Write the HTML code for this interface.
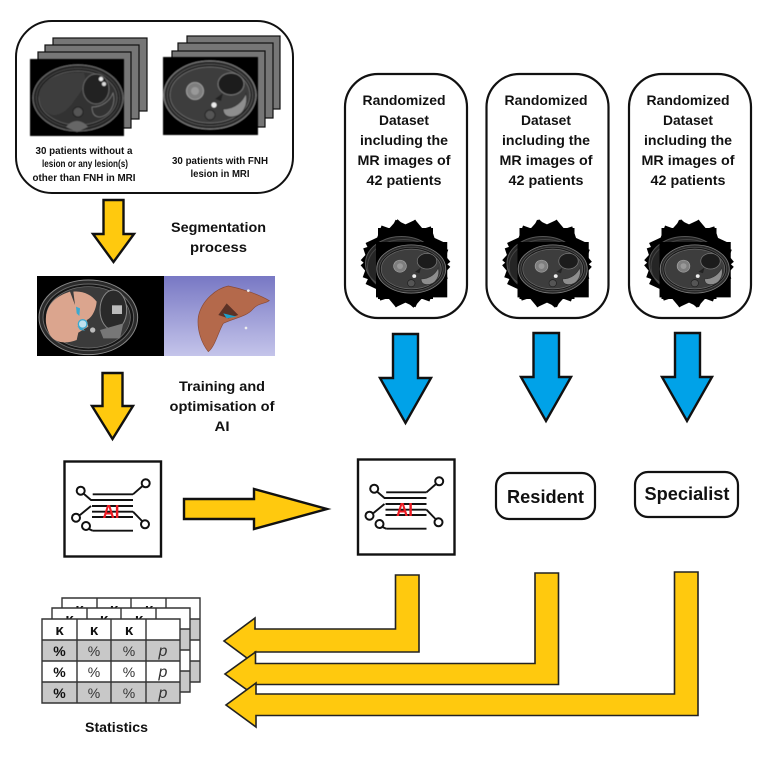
<!DOCTYPE html>
<html><head><meta charset="utf-8"><style>
html,body{margin:0;padding:0;background:#fff}
svg{display:block}
text{font-family:"Liberation Sans",sans-serif;font-weight:bold;fill:#111;text-anchor:middle}
text.n{font-weight:normal;fill:#333}
text.p{font-weight:normal;font-style:italic;fill:#333;font-size:16px}
</style></head><body>
<svg width="769" height="767" viewBox="0 0 769 767" xmlns="http://www.w3.org/2000/svg">
<defs>
<filter id="b" x="-5%" y="-5%" width="110%" height="110%"><feGaussianBlur stdDeviation="0.5"/></filter>
<linearGradient id="sky" x1="0" y1="0" x2="0" y2="1"><stop offset="0" stop-color="#7878c4"/><stop offset="1" stop-color="#c4c4ea"/></linearGradient>
<g id="mriA" filter="url(#b)">
<rect width="94" height="77" fill="#000"/>
<ellipse cx="48" cy="39" rx="45" ry="33" fill="#262626" stroke="#6e6e6e" stroke-width="1"/>
<ellipse cx="48" cy="39" rx="41.500" ry="29.500" fill="#1c1c1c" stroke="#444"/>
<ellipse cx="48" cy="39" rx="39" ry="27" fill="#303030" stroke="#585858"/>
<path d="M9 36C11 20 30 12 54 14C58 25 50 34 44 42C38 52 26 60 18 54C12 50 9 43 9 36Z" fill="#3c3c3c"/>
<ellipse cx="66" cy="30" rx="13" ry="15" fill="#222" stroke="#666"/>
<path d="M62 48C72 48 80 42 83 34C86 44 81 56 70 58C64 58 62 54 62 48Z" fill="#333" stroke="#777" stroke-width=".8"/>
<circle cx="71" cy="20" r="2.200" fill="#eee"/><circle cx="74" cy="25" r="2" fill="#ddd"/>
<circle cx="48" cy="53" r="5" fill="#555" stroke="#222"/>
<path d="M36 68C42 60 52 60 58 68L47 73Z" fill="#666"/>
</g>
<g id="mriB" filter="url(#b)">
<rect width="95" height="78" fill="#000"/>
<ellipse cx="47" cy="38" rx="46" ry="34" fill="#2a2a2a" stroke="#808080" stroke-width="1.100"/>
<ellipse cx="47" cy="38" rx="42.500" ry="30.500" fill="#181818" stroke="#555"/>
<ellipse cx="47" cy="38" rx="40" ry="28" fill="#3e3e3e" stroke="#666"/>
<circle cx="32" cy="34" r="8.500" fill="#7e7e7e" stroke="#aaa" stroke-width=".8"/>
<circle cx="32" cy="34" r="4" fill="#999"/>
<ellipse cx="68" cy="27" rx="13" ry="11" fill="#1a1a1a" stroke="#777"/>
<path d="M60 52C72 52 80 44 83 36C86 48 80 60 68 60C63 60 60 57 60 52Z" fill="#8e8e8e" stroke="#333"/>
<circle cx="51" cy="48" r="2.600" fill="#eee"/>
<circle cx="47" cy="58" r="5" fill="#555" stroke="#222"/>
<path d="M52 42L60 36L58 44Z" fill="#222"/>
</g>
<g id="star">
<rect x="-35.500" y="-27.500" width="71" height="55" transform="rotate(20)" fill="#000"/>
<rect x="-35.500" y="-27.500" width="71" height="55" transform="rotate(42)" fill="#000"/>
<rect x="-35.500" y="-27.500" width="71" height="55" transform="rotate(65)" fill="#000"/>
<rect x="-35.500" y="-27.500" width="71" height="55" transform="rotate(90)" fill="#000"/>
<rect x="-35.500" y="-27.500" width="71" height="55" transform="rotate(115)" fill="#000"/>
<rect x="-35.500" y="-27.500" width="71" height="55" transform="rotate(140)" fill="#000"/>
<rect x="-35.500" y="-27.500" width="71" height="55" transform="rotate(162)" fill="#000"/>
<ellipse cx="-4" cy="0" rx="36" ry="27" fill="#252525" stroke="#555"/>
<ellipse cx="-2" cy="3" rx="36" ry="27" fill="none" stroke="#444"/>
<use href="#mriB" transform="translate(-29.500,-21.500) scale(.75,.71)"/>
</g>
<g id="ai" fill="none" stroke="#111" stroke-width="1.900">
<rect x="64.500" y="461.500" width="96.500" height="95" stroke-width="2.400"/>
<circle cx="80.700" cy="490.700" r="4" stroke-width="2"/><circle cx="145.700" cy="483.300" r="4" stroke-width="2"/>
<circle cx="76" cy="517.700" r="4" stroke-width="2"/><circle cx="86" cy="526" r="4" stroke-width="2"/>
<circle cx="145" cy="524.300" r="4" stroke-width="2"/>
<path d="M92.700 494.300H133M84 494L91 500H133M92 506H133M92 511.700H133M92 517H133M92.700 530.700H133"/>
<path d="M133 494.300L142.500 486M80 515L91 506M133 511.700L142 521M89 529L92.700 530.700"/>
<text x="111" y="518" font-size="18" stroke="none" style="fill:#ed1c24" textLength="17" lengthAdjust="spacingAndGlyphs">AI</text>
</g>
<g id="tb">
<rect x="0" y="0" width="138" height="84" fill="#fff"/>
<rect x="0" y="21" width="138" height="21" fill="#c8c8c8"/>
<rect x="0" y="63" width="138" height="21" fill="#c8c8c8"/>
<path d="M0 0H138V84H0ZM35 0V84M69 0V84M104 0V84M0 21H138M0 42H138M0 63H138" fill="none" stroke="#333" stroke-width="1.400"/>
<g font-size="14">
<text x="17.500" y="16" font-size="15">κ</text><text x="52" y="16" font-size="15">κ</text><text x="87" y="16" font-size="15">κ</text>
<text x="17.500" y="37">%</text><text x="17.500" y="58">%</text><text x="17.500" y="79">%</text>
<text class="n" x="52" y="37">%</text><text class="n" x="87" y="37">%</text><text class="p" x="121" y="37">p</text>
<text class="n" x="52" y="58">%</text><text class="n" x="87" y="58">%</text><text class="p" x="121" y="58">p</text>
<text class="n" x="52" y="79">%</text><text class="n" x="87" y="79">%</text><text class="p" x="121" y="79">p</text>
</g>
</g>
</defs>

<!-- top-left panel -->
<rect x="16" y="21" width="277" height="172" rx="36" fill="#fff" stroke="#111" stroke-width="2"/>
<g fill="#767676" stroke="#111" stroke-width="1.200">
<rect x="53" y="38" width="94" height="73"/><rect x="45" y="45" width="94" height="74"/><rect x="38" y="52" width="93" height="76"/>
<rect x="187" y="36" width="93" height="73"/><rect x="178" y="43" width="95" height="75"/><rect x="172" y="51" width="93" height="76"/>
</g>
<use href="#mriA" x="30" y="59"/>
<use href="#mriB" x="163" y="57"/>
<g font-size="10.500">
<text x="84" y="154" textLength="97" lengthAdjust="spacingAndGlyphs">30 patients without a</text>
<text x="85" y="167" textLength="86" lengthAdjust="spacingAndGlyphs">lesion or any lesion(s)</text>
<text x="84" y="181" textLength="103" lengthAdjust="spacingAndGlyphs">other than FNH in MRI</text>
<text x="220" y="164" textLength="96" lengthAdjust="spacingAndGlyphs">30 patients with FNH</text>
<text x="220" y="177" textLength="59" lengthAdjust="spacingAndGlyphs">lesion in MRI</text>
</g>

<!-- yellow down arrows -->
<path d="M103.500 200H123.500V234H134L113.500 262L93 234H103.500Z" fill="#ffc90e" stroke="#111" stroke-width="2.400" stroke-linejoin="miter"/>
<path d="M102.500 373H122.500V406H133L112.500 439L92 406H102.500Z" fill="#ffc90e" stroke="#111" stroke-width="2.400"/>
<g font-size="13.500">
<text x="218.500" y="232" textLength="95" lengthAdjust="spacingAndGlyphs">Segmentation</text>
<text x="218.500" y="252" textLength="57" lengthAdjust="spacingAndGlyphs">process</text>
<text x="222" y="391" textLength="86" lengthAdjust="spacingAndGlyphs">Training and</text>
<text x="222" y="411" textLength="105" lengthAdjust="spacingAndGlyphs">optimisation of</text>
<text x="222" y="431" textLength="15" lengthAdjust="spacingAndGlyphs">AI</text>
</g>

<!-- segmentation image -->
<rect x="37" y="276" width="127" height="80" fill="#000"/>
<rect x="164" y="276" width="111" height="80" fill="url(#sky)"/>
<g transform="translate(20,260) scale(.33333)" filter="url(#b)">
<ellipse cx="205" cy="172" rx="148" ry="112" fill="#2a2a2a" stroke="#8a8a8a" stroke-width="3"/>
<ellipse cx="205" cy="172" rx="136" ry="100" fill="#161616" stroke="#666" stroke-width="3"/>
<ellipse cx="205" cy="172" rx="126" ry="92" fill="#3a3a3a" stroke="#777" stroke-width="2"/>
<ellipse cx="280" cy="150" rx="40" ry="60" fill="#2c2c2c" stroke="#888" stroke-width="3"/>
<rect x="276" y="136" width="30" height="26" fill="#bbb"/>
<path d="M240 210L310 190L300 235L250 235Z" fill="#777"/>
<circle cx="218" cy="210" r="8" fill="#bbb"/>
<path d="M78 170C83 130 110 108 150 95L165 135L160 95C190 92 215 105 230 125C228 150 215 175 200 180L205 200L175 218L170 240C140 252 105 250 90 225C80 205 76 190 78 170Z" fill="#dba58e"/>
<path d="M168 140L180 145L178 168L170 160Z" fill="#3ba9d0"/>
<circle cx="188" cy="192" r="13" fill="#bfe1ee" stroke="#3ba9d0" stroke-width="4"/>
<path d="M172 198L196 212L180 210Z" fill="#3ba9d0"/>
<path d="M535 170C545 120 590 85 625 78C660 85 710 100 748 122C735 132 715 128 698 148C680 170 640 175 610 190C595 215 585 260 565 275C545 250 530 210 535 170Z" fill="#b4694c" stroke="#8a4a35" stroke-width="2"/>
<path d="M595 165L620 130L655 165L625 175Z" fill="#5c3327"/>
<path d="M610 160L650 170L620 175Z" fill="#1f9fc9"/>
<circle cx="685" cy="92" r="4" fill="#eee"/><circle cx="678" cy="204" r="4" fill="#eee"/>
</g>

<!-- AI boxes -->
<use href="#ai"/>
<use href="#ai" transform="translate(293.500,-2)"/>
<path d="M184 499H254V489L327 509L254 529V519H184Z" fill="#ffc90e" stroke="#111" stroke-width="2.400"/>

<!-- dataset panels -->
<rect x="345" y="74" width="122" height="244" rx="33" fill="#fff" stroke="#111" stroke-width="2.200"/>
<rect x="486.500" y="74" width="122" height="244" rx="33" fill="#fff" stroke="#111" stroke-width="2.200"/>
<rect x="629" y="74" width="122" height="244" rx="33" fill="#fff" stroke="#111" stroke-width="2.200"/>
<g id="ds" font-size="14">
<text x="404" y="105" textLength="83" lengthAdjust="spacingAndGlyphs">Randomized</text>
<text x="404" y="125" textLength="50" lengthAdjust="spacingAndGlyphs">Dataset</text>
<text x="404" y="145" textLength="88" lengthAdjust="spacingAndGlyphs">including the</text>
<text x="404" y="165" textLength="93" lengthAdjust="spacingAndGlyphs">MR images of</text>
<text x="404" y="185" textLength="75" lengthAdjust="spacingAndGlyphs">42 patients</text>
</g>
<use href="#ds" x="142"/>
<use href="#ds" x="284"/>
<use href="#star" transform="translate(405.500,263.500)"/>
<use href="#star" transform="translate(547,263.500)"/>
<use href="#star" transform="translate(689,263.500)"/>

<!-- blue arrows -->
<g fill="#00a2e8" stroke="#111" stroke-width="2.400">
<path d="M393 334H418V378H431L405.500 423L380 378H393Z"/>
<path d="M533.500 333H559V377H571L546 421L521 377H533.500Z"/>
<path d="M675 333H700V377H712L687 421L662 377H675Z"/>
</g>

<!-- resident/specialist -->
<rect x="496" y="473" width="99" height="46" rx="13" fill="#fff" stroke="#111" stroke-width="2.200"/>
<rect x="635" y="472" width="103" height="45" rx="13" fill="#fff" stroke="#111" stroke-width="2.200"/>
<text x="545.500" y="503" font-size="18.500" textLength="77" lengthAdjust="spacingAndGlyphs">Resident</text>
<text x="687" y="500" font-size="18.500" textLength="85" lengthAdjust="spacingAndGlyphs">Specialist</text>

<!-- L arrows -->
<g fill="#ffc90e" stroke="#222" stroke-width="1.600">
<path d="M395.500 575H419V652H255V664L224 641L255 618V629H395.500Z"/>
<path d="M535 573H558.500V684.500H255.500V696L225 674L255.500 652V663.500H535Z"/>
<path d="M674.500 572H698V715.500H256V727L226 705L256 683V694H674.500Z"/>
</g>

<!-- tables -->
<use href="#tb" transform="translate(62,598)"/>
<use href="#tb" transform="translate(52,608)"/>
<use href="#tb" transform="translate(42,619)"/>
<text x="116.500" y="732" font-size="14" textLength="63" lengthAdjust="spacingAndGlyphs">Statistics</text>
</svg>
</body></html>
